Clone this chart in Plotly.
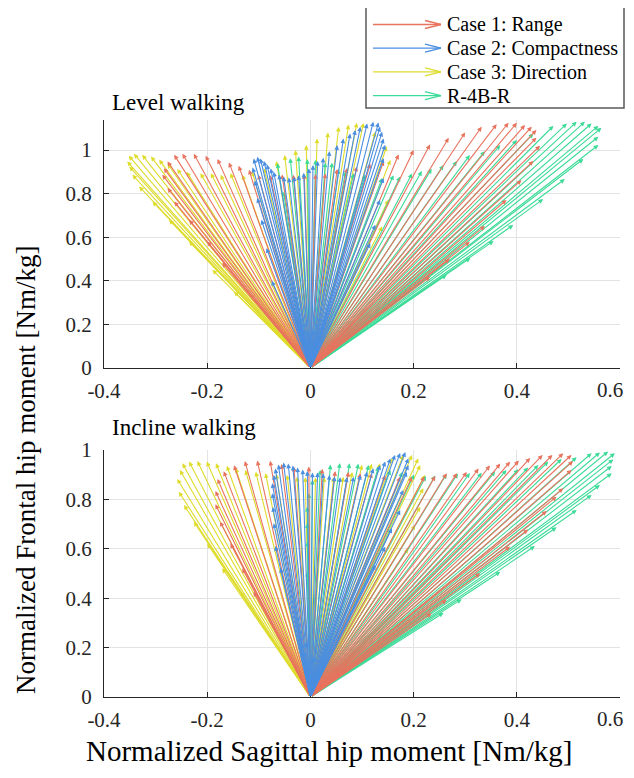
import plotly.graph_objects as go

# ---------------- data (arrow tips, [Nm/kg]) ----------------
SERIES_NAMES = ["Case 1: Range", "Case 2: Compactness", "Case 3: Direction", "R-4B-R"]
SERIES_COLORS = ["#E8735E", "#4A8EE0", "#DEDC2C", "#3DDB98"]

LEVEL_CASE1 = [(-0.171,0.483),(-0.200,0.581),(-0.235,0.680),(-0.264,0.764),(-0.277,0.826),(-0.287,0.887),
               (-0.284,0.917),(-0.277,0.948),(-0.264,0.978),(-0.248,0.983),(-0.226,0.983),(-0.203,0.974),
               (-0.180,0.959),(-0.158,0.943),(-0.139,0.928),(-0.119,0.910),(-0.101,0.887),(-0.078,0.885),
               (-0.055,0.888),(-0.033,0.887),(-0.012,0.889),(0.010,0.890),(0.029,0.893),(0.052,0.913),
               (0.071,0.918),(0.090,0.925),(0.116,0.938),(0.142,0.950),(0.171,0.980),(0.200,1.000),
               (0.232,1.026),(0.268,1.056),(0.300,1.081),(0.332,1.107),(0.361,1.119),(0.384,1.125),
               (0.400,1.125),(0.416,1.115),(0.429,1.107),(0.438,1.092),(0.438,1.057),(0.445,1.020),
               (0.432,0.950),(0.409,0.862),(0.380,0.771),(0.338,0.652),(0.309,0.579),(0.270,0.500),(0.232,0.419)]

LEVEL_CASE2 = [(-0.075,0.400),(-0.085,0.550),(-0.095,0.680),(-0.103,0.780),(-0.108,0.860),(-0.112,0.920),
               (-0.110,0.961),(-0.103,0.969),(-0.097,0.961),(-0.090,0.950),(-0.084,0.934),(-0.077,0.916),
               (-0.071,0.900),(-0.061,0.888),(-0.052,0.878),(-0.042,0.874),(-0.032,0.878),(-0.023,0.885),
               (-0.013,0.896),(-0.003,0.916),(0.005,0.931),(0.014,0.950),(0.025,0.965),(0.037,0.995),
               (0.052,1.023),(0.064,1.053),(0.077,1.076),(0.087,1.092),(0.097,1.107),(0.110,1.122),
               (0.122,1.130),(0.132,1.127),(0.135,1.107),(0.139,1.084),(0.142,1.053),(0.145,1.024),
               (0.142,0.963),(0.142,0.872),(0.135,0.772),(0.126,0.657),(0.116,0.573)]

LEVEL_CASE3 = [(-0.148,0.351),(-0.190,0.451),(-0.235,0.581),(-0.274,0.680),(-0.306,0.764),(-0.332,0.833),
               (-0.345,0.887),(-0.351,0.925),(-0.355,0.948),(-0.352,0.974),(-0.342,0.983),(-0.326,0.978),
               (-0.309,0.971),(-0.293,0.956),(-0.277,0.937),(-0.258,0.913),(-0.240,0.900),(-0.213,0.894),
               (-0.193,0.894),(-0.174,0.887),(-0.155,0.894),(-0.132,0.887),(-0.113,0.902),(-0.090,0.917),
               (-0.066,0.950),(-0.050,0.977),(-0.029,1.000),(-0.008,1.023),(0.013,1.053),(0.034,1.081),
               (0.055,1.107),(0.074,1.117),(0.090,1.125),(0.103,1.124),(0.126,1.084),(0.148,1.017),
               (0.155,0.955),(0.151,0.772),(0.139,0.650)]

LEVEL_R4BR = [(-0.052,0.809),(-0.064,0.940),(-0.039,0.963),(-0.023,0.971),(-0.006,0.959),(0.010,0.956),
              (0.029,0.943),(0.042,0.942),(0.055,0.913),(0.068,0.902),(0.084,0.894),(0.106,0.887),
              (0.139,0.872),(0.161,0.885),(0.174,0.879),(0.197,0.893),(0.216,0.904),(0.235,0.914),
              (0.258,0.931),(0.284,0.950),(0.309,0.977),(0.338,0.995),(0.368,1.023),(0.400,1.046),
              (0.432,1.076),(0.471,1.111),(0.497,1.122),(0.516,1.130),(0.532,1.130),(0.545,1.122),
              (0.558,1.111),(0.564,1.102),(0.558,1.061),(0.558,1.023),(0.529,0.959),(0.493,0.867),
              (0.451,0.775),(0.393,0.656),(0.355,0.583),(0.310,0.505),(0.264,0.427)]

INCLINE_CASE1 = [(-0.110,0.426),(-0.132,0.521),(-0.155,0.622),(-0.175,0.710),(-0.184,0.780),(-0.184,0.834),
                 (-0.180,0.883),(-0.168,0.914),(-0.148,0.938),(-0.127,0.955),(-0.103,0.957),(-0.078,0.956),
                 (-0.056,0.943),(-0.032,0.932),(-0.003,0.933),(0.023,0.924),(0.048,0.915),(0.074,0.912),
                 (0.097,0.906),(0.119,0.906),(0.145,0.899),(0.174,0.892),(0.197,0.892),(0.221,0.893),
                 (0.242,0.895),(0.264,0.906),(0.284,0.906),(0.303,0.911),(0.326,0.925),(0.348,0.937),
                 (0.368,0.945),(0.387,0.953),(0.404,0.957),(0.426,0.968),(0.450,0.980),(0.469,0.980),
                 (0.490,0.987),(0.506,0.980),(0.509,0.955),(0.506,0.919),(0.490,0.845),(0.477,0.811),
                 (0.458,0.753),(0.422,0.678),(0.387,0.609),(0.329,0.501),(0.264,0.393),(0.235,0.339)]

INCLINE_CASE2 = [(-0.058,0.522),(-0.068,0.611),(-0.071,0.703),(-0.073,0.769),(-0.074,0.825),(-0.074,0.865),
                 (-0.071,0.899),(-0.068,0.925),(-0.062,0.941),(-0.052,0.949),(-0.043,0.945),(-0.034,0.937),
                 (-0.025,0.929),(-0.015,0.921),(-0.006,0.915),(0.004,0.909),(0.014,0.909),(0.025,0.906),
                 (0.037,0.899),(0.047,0.893),(0.058,0.890),(0.071,0.890),(0.084,0.892),(0.097,0.899),
                 (0.110,0.912),(0.122,0.926),(0.135,0.939),(0.145,0.953),(0.155,0.966),(0.164,0.980),
                 (0.174,0.988),(0.184,0.992),(0.190,0.966),(0.190,0.939),(0.187,0.911),(0.180,0.838),
                 (0.174,0.757),(0.158,0.683),(0.145,0.608),(0.126,0.534)]

INCLINE_CASE3 = [(-0.135,0.426),(-0.171,0.521),(-0.200,0.622),(-0.226,0.710),(-0.245,0.777),(-0.255,0.831),
                 (-0.258,0.883),(-0.253,0.919),(-0.248,0.946),(-0.235,0.953),(-0.219,0.955),(-0.201,0.953),
                 (-0.183,0.946),(-0.162,0.936),(-0.145,0.928),(-0.126,0.919),(-0.106,0.912),(-0.087,0.906),
                 (-0.066,0.903),(-0.045,0.899),(-0.026,0.892),(-0.010,0.890),(0.010,0.889),(0.027,0.890),
                 (0.045,0.890),(0.064,0.892),(0.081,0.911),(0.100,0.940),(0.119,0.944),(0.135,0.946),
                 (0.159,0.968),(0.180,0.980),(0.197,0.980),(0.209,0.966),(0.213,0.939),(0.222,0.899),
                 (0.219,0.845),(0.213,0.770),(0.203,0.696),(0.190,0.602)]

INCLINE_R4BR = [(-0.006,0.507),(-0.006,0.629),(-0.006,0.703),(-0.006,0.770),(-0.003,0.825),(0.004,0.879),
                (0.019,0.919),(0.039,0.941),(0.057,0.947),(0.076,0.946),(0.093,0.945),(0.113,0.939),
                (0.132,0.933),(0.155,0.919),(0.178,0.911),(0.201,0.901),(0.224,0.895),(0.242,0.897),
                (0.264,0.903),(0.286,0.905),(0.309,0.907),(0.332,0.908),(0.358,0.913),(0.380,0.919),
                (0.403,0.922),(0.422,0.929),(0.442,0.939),(0.461,0.953),(0.487,0.964),(0.516,0.971),
                (0.545,0.987),(0.561,0.990),(0.577,0.994),(0.590,0.987),(0.587,0.962),(0.584,0.935),
                (0.584,0.906),(0.561,0.858),(0.545,0.818),(0.516,0.757),(0.477,0.687),(0.435,0.611),
                (0.368,0.507),(0.293,0.396),(0.258,0.341)]

LEVEL = [LEVEL_CASE1, LEVEL_CASE2, LEVEL_CASE3, LEVEL_R4BR]
INCLINE = [INCLINE_CASE1, INCLINE_CASE2, INCLINE_CASE3, INCLINE_R4BR]
PANEL_TITLES = ["Level walking", "Incline walking"]
X_TICKS = [-0.4, -0.2, 0, 0.2, 0.4, 0.6]
X_TICK_LABELS = ["-0.4", "-0.2", "0", "0.2", "0.4", "0.6"]
Y_TICKS = [0, 0.2, 0.4, 0.6, 0.8, 1]
Y_TICK_LABELS = ["0", "0.2", "0.4", "0.6", "0.8", "1"]
ORIGIN = (0.0, 0.0)
DRAW_ORDER = [2, 3, 0, 1]

# ---------------- figure ----------------
FONT = "Liberation Serif"
OFF = 8                      # default page body margin
W, H = 634 - 2 * OFF, 778 - 2 * OFF
PLOT_L, PLOT_R, TOP_T, TOP_B, BOT_T, BOT_B = 104, 620, 120, 368, 450, 697   # window px
ML, MR = PLOT_L - OFF, W - (PLOT_R - OFF)
MT, MB = TOP_T - OFF, H - (BOT_B - OFF)
PW, PH = W - ML - MR, H - MT - MB


def px_to_paper(px, py):
    return (px - OFF - ML) / PW, (H - MB - (py - OFF)) / PH


fig = go.Figure()
fig.add_trace(go.Scatter(x=[], y=[], xaxis="x", yaxis="y", showlegend=False))
fig.add_trace(go.Scatter(x=[], y=[], xaxis="x2", yaxis="y2", showlegend=False))

annotations = []
for panel, (xr, yr) in zip([LEVEL, INCLINE], [("x", "y"), ("x2", "y2")]):
    for si in DRAW_ORDER:
        for (xv, yv) in panel[si]:
            annotations.append(dict(
                x=xv, y=yv, xref=xr, yref=yr,
                ax=ORIGIN[0], ay=ORIGIN[1], axref=xr, ayref=yr,
                text="", showarrow=True, arrowhead=2, arrowsize=0.85,
                arrowwidth=1.1, arrowcolor=SERIES_COLORS[si], standoff=0))

# panel titles
for title, py in zip(PANEL_TITLES, [102, 428]):
    px_, py_ = px_to_paper(110, py)
    annotations.append(dict(x=px_, y=py_, xref="paper", yref="paper", text=title,
                            showarrow=False, xanchor="left", yanchor="middle",
                            font=dict(family=FONT, size=23, color="black")))

# last x tick label kept inside the page edge
for py in [TOP_B, BOT_B]:
    lx, ly = px_to_paper(625, py + 22)
    annotations.append(dict(x=lx, y=ly, xref="paper", yref="paper", text=X_TICK_LABELS[-1],
                            showarrow=False, xanchor="right", yanchor="middle",
                            font=dict(family=FONT, size=21, color="#262626")))

# axis titles
ax_x, ax_y = px_to_paper(329, 751)
annotations.append(dict(x=ax_x, y=ax_y, xref="paper", yref="paper",
                        text="Normalized Sagittal hip moment [Nm/kg]", showarrow=False,
                        xanchor="center", yanchor="middle",
                        font=dict(family=FONT, size=29, color="black")))
ay_x, ay_y = px_to_paper(26, 470)
annotations.append(dict(x=ay_x, y=ay_y, xref="paper", yref="paper", textangle=-90,
                        text="Normalized Frontal hip moment [Nm/kg]", showarrow=False,
                        xanchor="center", yanchor="middle",
                        font=dict(family=FONT, size=27, color="black")))

# legend (manual, with arrow glyphs)
shapes = []
x0, y0 = px_to_paper(366, 108)
x1, y1 = px_to_paper(624, 2)
shapes.append(dict(type="rect", xref="paper", yref="paper", x0=x0, y0=y0, x1=x1, y1=y1,
                   line=dict(color="#5a5a5a", width=1.5), fillcolor="white", layer="below"))
for i, (name, col) in enumerate(zip(SERIES_NAMES, SERIES_COLORS)):
    ry = 24.5 + i * 23.7
    lx0, ly = px_to_paper(373, ry)
    lx1, _ = px_to_paper(441, ry)
    shapes.append(dict(type="line", xref="paper", yref="paper", x0=lx0, y0=ly, x1=lx1, y1=ly,
                       line=dict(color=col, width=1.3)))
    cx, cyu = px_to_paper(425, ry - 4)
    _, cyd = px_to_paper(425, ry + 4)
    shapes.append(dict(type="line", xref="paper", yref="paper", x0=cx, y0=cyu, x1=lx1, y1=ly,
                       line=dict(color=col, width=1.3)))
    shapes.append(dict(type="line", xref="paper", yref="paper", x0=cx, y0=cyd, x1=lx1, y1=ly,
                       line=dict(color=col, width=1.3)))
    tx, ty = px_to_paper(445, ry)
    annotations.append(dict(x=tx, y=ty, xref="paper", yref="paper", text=name, showarrow=False,
                            xanchor="left", yanchor="middle",
                            font=dict(family=FONT, size=20, color="black")))

top_lo = (H - MB - (TOP_B - OFF)) / PH
bot_hi = (H - MB - (BOT_T - OFF)) / PH

axis_common = dict(showgrid=True, gridcolor="#e3e3e3", gridwidth=1, zeroline=False,
                   showline=True, linecolor="#262626", linewidth=1.2,
                   ticks="inside", ticklen=5, tickcolor="#262626",
                   tickfont=dict(family=FONT, size=21, color="#262626"))
x_ticktext = X_TICK_LABELS[:-1] + [""]

fig.update_layout(
    width=W, height=H, margin=dict(l=ML, r=MR, t=MT, b=MB),
    font=dict(family=FONT, color="#262626"),
    plot_bgcolor="white", paper_bgcolor="white", showlegend=False,
    xaxis=dict(domain=[0, 1], anchor="y", range=[-0.4, 0.6], tickvals=X_TICKS,
               ticktext=x_ticktext, ticklabelstandoff=4, **axis_common),
    yaxis=dict(domain=[top_lo, 1], anchor="x", range=[0, 1.138], tickvals=Y_TICKS,
               ticktext=Y_TICK_LABELS, ticklabelstandoff=7, **axis_common),
    xaxis2=dict(domain=[0, 1], anchor="y2", range=[-0.4, 0.6], tickvals=X_TICKS,
                ticktext=x_ticktext, ticklabelstandoff=4, **axis_common),
    yaxis2=dict(domain=[0, bot_hi], anchor="x2", range=[0, 1.0], tickvals=Y_TICKS,
                ticktext=Y_TICK_LABELS, ticklabelstandoff=7, **axis_common),
    annotations=annotations, shapes=shapes,
)

fig.write_html("out.html", config={"displayModeBar": False})
